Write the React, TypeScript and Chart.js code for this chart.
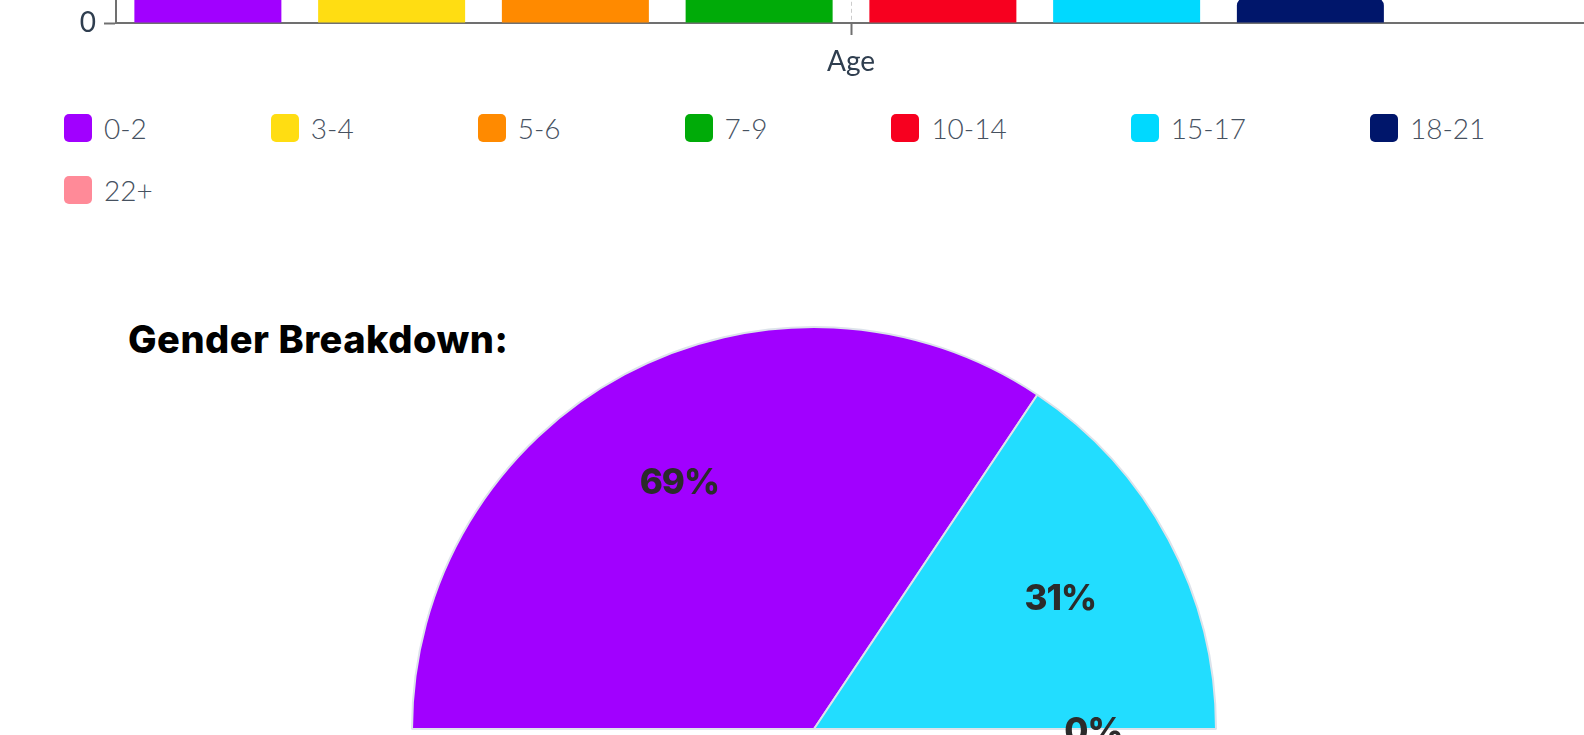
import React, { useEffect, useRef } from 'react';
import { Chart, registerables } from 'chart.js';

Chart.register(...registerables);

// ---- Age chart data ----
const ageCategories = ['Age'];
const ageGroups = ['0-2', '3-4', '5-6', '7-9', '10-14', '15-17', '18-21', '22+'];
const ageCounts = [38, 29, 34, 41, 47, 22, 5, 0];
const ageColors = ['#a100ff', '#ffdd12', '#ff8a00', '#00ab08', '#f7001f', '#00d9ff', '#00166b', '#ff8a98'];
const ageAxisMax = 50;
const ageAxisStep = 10;

// ---- Gender chart data ----
const genderTitle = 'Gender Breakdown:';
const genderLabels = ['Female', 'Male', 'Other'];
const genderCounts = [11, 5, 0];
const genderColors = ['#a100ff', '#22ddff', '#ffdd12'];

const AXIS_GREY = '#707070';
const TEXT_DARK = '#2f3e4f';

const pctLabelPlugin = {
  id: 'pctLabels',
  afterDatasetsDraw(chart: any) {
    const ctx = chart.ctx;
    const meta = chart.getDatasetMeta(0);
    const values: number[] = chart.data.datasets[0].data;
    const total = values.reduce((a, b) => a + b, 0);
    ctx.save();
    ctx.font = '800 35px Inter';
    try {
      (ctx as any).letterSpacing = '-1px';
    } catch (e) {}
    ctx.fillStyle = '#2b2b2b';
    ctx.textAlign = 'center';
    ctx.textBaseline = 'middle';
    meta.data.forEach((arc: any, i: number) => {
      const p = arc.getProps(['x', 'y', 'startAngle', 'endAngle', 'outerRadius'], true);
      const mid = (p.startAngle + p.endAngle) / 2;
      const r = p.outerRadius * 0.7;
      const pct = Math.round((values[i] / total) * 100) + '%';
      ctx.fillText(pct, p.x + Math.cos(mid) * r - 2, p.y + Math.sin(mid) * r + 3);
    });
    ctx.restore();
  },
};

export default function App() {
  const barRef = useRef<HTMLCanvasElement | null>(null);
  const pieRef = useRef<HTMLCanvasElement | null>(null);

  useEffect(() => {
    document.body.style.margin = '0';
    document.body.style.overflow = 'hidden';

    const barCanvas = barRef.current!;
    const bar = new Chart(barCanvas, {
      type: 'bar',
      data: {
        labels: ageCategories,
        datasets: ageGroups.map((g, i) => ({
          label: g,
          data: [ageCounts[i]],
          backgroundColor: ageColors[i],
          borderRadius: 8,
          borderSkipped: 'start' as const,
          barPercentage: 0.8,
          categoryPercentage: 1,
        })),
      },
      options: {
        animation: false,
        responsive: false,
        maintainAspectRatio: false,
        layout: { padding: 0 },
        plugins: { legend: { display: false }, tooltip: { enabled: false } },
        scales: {
          x: {
            grid: {
              offset: false,
              color: '#cccccc',
              lineWidth: 1,
              tickColor: AXIS_GREY,
              tickLength: 12,
              tickWidth: 2,
            },
            border: { color: AXIS_GREY, width: 2, dash: [4, 3] },
            ticks: { color: TEXT_DARK, font: { family: 'Lato', size: 28 }, padding: 10 },
            afterFit: (s: any) => {
              s.height = 80;
            },
          },
          y: {
            beginAtZero: true,
            max: ageAxisMax,
            ticks: { stepSize: ageAxisStep, color: TEXT_DARK, font: { family: 'Lato', size: 28 }, padding: 8 },
            grid: { drawOnChartArea: false, tickLength: 12, tickColor: AXIS_GREY, tickWidth: 2 },
            border: { color: AXIS_GREY, width: 2 },
            afterFit: (s: any) => {
              s.width = 116;
            },
          },
        },
      },
    });
    barCanvas.style.top = 23 - bar.chartArea.bottom + 'px';

    const pieCanvas = pieRef.current!;
    const pie = new Chart(pieCanvas, {
      type: 'pie',
      data: {
        labels: genderLabels,
        datasets: [
          {
            data: genderCounts,
            backgroundColor: genderColors,
            borderColor: '#dde3eb',
            borderWidth: 2,
          },
        ],
      },
      options: {
        animation: false,
        responsive: false,
        maintainAspectRatio: false,
        rotation: -90,
        circumference: 180,
        radius: 402,
        layout: { padding: 0 },
        plugins: { legend: { display: false }, tooltip: { enabled: false } },
      } as any,
      plugins: [pctLabelPlugin],
    });
    const arc0: any = pie.getDatasetMeta(0).data[0];
    pieCanvas.style.left = 814 - arc0.x + 'px';
    pieCanvas.style.top = 729 - arc0.y + 'px';

    return () => {
      bar.destroy();
      pie.destroy();
    };
  }, []);

  return (
    <div style={{ position: 'relative', width: 1584, height: 735, overflow: 'hidden', background: '#fff' }}>
      <canvas ref={barRef} width={1586} height={357} style={{ position: 'absolute', left: 0, top: 0 }} />
      <div
        style={{
          position: 'absolute',
          left: 64,
          top: 111,
          width: 1520,
          display: 'flex',
          flexWrap: 'wrap',
          columnGap: 124,
          rowGap: 28,
        }}
      >
        {ageGroups.map((g, i) => (
          <div key={g} style={{ display: 'flex', alignItems: 'center', height: 34 }}>
            <div style={{ width: 28, height: 28, borderRadius: 5, background: ageColors[i], marginRight: 12 }} />
            <span style={{ fontFamily: 'Lato', fontWeight: 300, fontSize: 28, lineHeight: '34px', color: '#46515f' }}>{g}</span>
          </div>
        ))}
      </div>
      <div
        style={{
          position: 'absolute',
          left: 128,
          top: 320,
          fontFamily: 'Inter',
          fontWeight: 800,
          fontSize: 38,
          letterSpacing: 0.5,
          lineHeight: 1,
          color: '#000',
          whiteSpace: 'nowrap',
        }}
      >
        {genderTitle}
      </div>
      <canvas ref={pieRef} width={1000} height={460} style={{ position: 'absolute', left: 0, top: 0 }} />
    </div>
  );
}
